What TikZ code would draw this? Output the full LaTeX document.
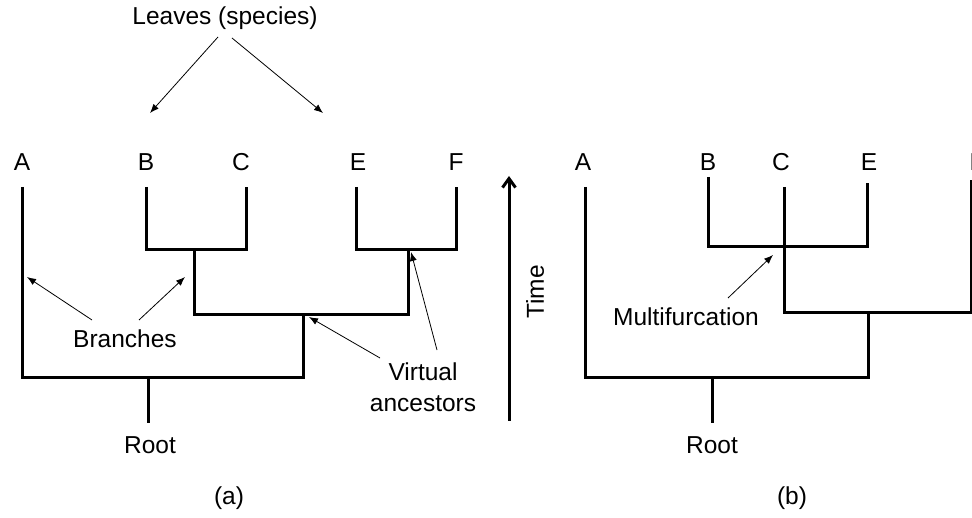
\documentclass[tikz,border=0pt]{standalone}
\usepackage{fontspec}
\setmainfont{Liberation Sans}
\usetikzlibrary{arrows.meta}
\begin{document}
\begin{tikzpicture}[x=1pt,y=-1pt,
  tree/.style={line width=3pt},
  lbl/.style={font=\fontsize{24.5}{28}\selectfont, inner sep=0pt},
  pointer/.style={line width=0.8pt, -{Latex[length=9pt,width=7pt]}},
  timearrow/.style={line width=3pt, -{Straight Barb[length=9pt,width=13pt,line width=3pt]}}]
\useasboundingbox (0,0) rectangle (972,518);
\clip (0,0) rectangle (972,518);
% ---------- (a) ----------
\node[lbl] (nA) at (22,162) {A};
\node[lbl] (nB) at (146,162) {B};
\node[lbl] (nC) at (241,162) {C};
\node[lbl] (nE) at (358,162) {E};
\node[lbl] (nF) at (456,162) {F};
\coordinate (aA) at (22,187);
\coordinate (aB) at (146,187);
\coordinate (aC) at (246,187);
\coordinate (aE) at (356,187);
\coordinate (aF) at (456,187);
\coordinate (aBC) at (194,250);
\coordinate (aEF) at (408,250);
\coordinate (aBCEF) at (303,315);
\coordinate (aRoot) at (148,378);
\coordinate (aRootEnd) at (148,423);
\draw[tree] (aB) |- (aBC) -| (aC);
\draw[tree] (aE) |- (aEF) -| (aF);
\draw[tree] (aBC) |- (aBCEF) -| (aEF);
\draw[tree] (aA) |- (aRoot) -| (aBCEF);
\draw[tree] (aRoot) -- (aRootEnd);
\node[lbl] (rootA) at (150,445) {Root};
\node[lbl] (capA) at (229,498) {(a)};
\node[lbl] (leaves) at (225,18) {Leaves (species)};
\coordinate (lv1s) at (218,37);
\coordinate (lv1e) at (150,113);
\coordinate (lv2s) at (232,38);
\coordinate (lv2e) at (323,113);
\draw[pointer] (lv1s) -- (lv1e);
\draw[pointer] (lv2s) -- (lv2e);
\node[lbl] (branches) at (125,339) {Branches};
\coordinate (br1s) at (92,320);
\coordinate (br1e) at (27,277);
\coordinate (br2s) at (139,320);
\coordinate (br2e) at (185,277);
\draw[pointer] (br1s) -- (br1e);
\draw[pointer] (br2s) -- (br2e);
\node[lbl, align=center] (virtual) at (423,387) {Virtual\\[3pt]ancestors};
\coordinate (va1s) at (380,358);
\coordinate (va1e) at (309,317);
\coordinate (va2s) at (437,350);
\coordinate (va2e) at (411,252);
\draw[pointer] (va1s) -- (va1e);
\draw[pointer] (va2s) -- (va2e);
% ---------- time ----------
\coordinate (tS) at (509,421);
\coordinate (tE) at (509,176);
\draw[timearrow] (tS) -- (tE);
\node[lbl, rotate=90] (time) at (535,292) {Time};
% ---------- (b) ----------
\node[lbl] (mA) at (583,162) {A};
\node[lbl] (mB) at (708,162) {B};
\node[lbl] (mC) at (781,162) {C};
\node[lbl] (mE) at (869,162) {E};
\node[lbl] (mF) at (977,162) {F};
\coordinate (bA) at (585,187);
\coordinate (bB) at (708,177);
\coordinate (bC) at (784,187);
\coordinate (bE) at (867,183);
\coordinate (bF) at (971,180);
\coordinate (bBCE) at (784,247);
\coordinate (bCF) at (868,313);
\coordinate (bRoot) at (712,378);
\coordinate (bRootEnd) at (712,423);
\draw[tree] (bB) |- (bBCE) -| (bE);
\draw[tree] (bC) |- (bCF) -| (bF);
\draw[tree] (bA) |- (bRoot) -| (bCF);
\draw[tree] (bRoot) -- (bRootEnd);
\node[lbl] (rootB) at (712,445) {Root};
\node[lbl] (capB) at (792,498) {(b)};
\node[lbl] (multi) at (686,317) {Multifurcation};
\coordinate (muS) at (728,298);
\coordinate (muE) at (773,255);
\draw[pointer] (muS) -- (muE);
\end{tikzpicture}
\end{document}
